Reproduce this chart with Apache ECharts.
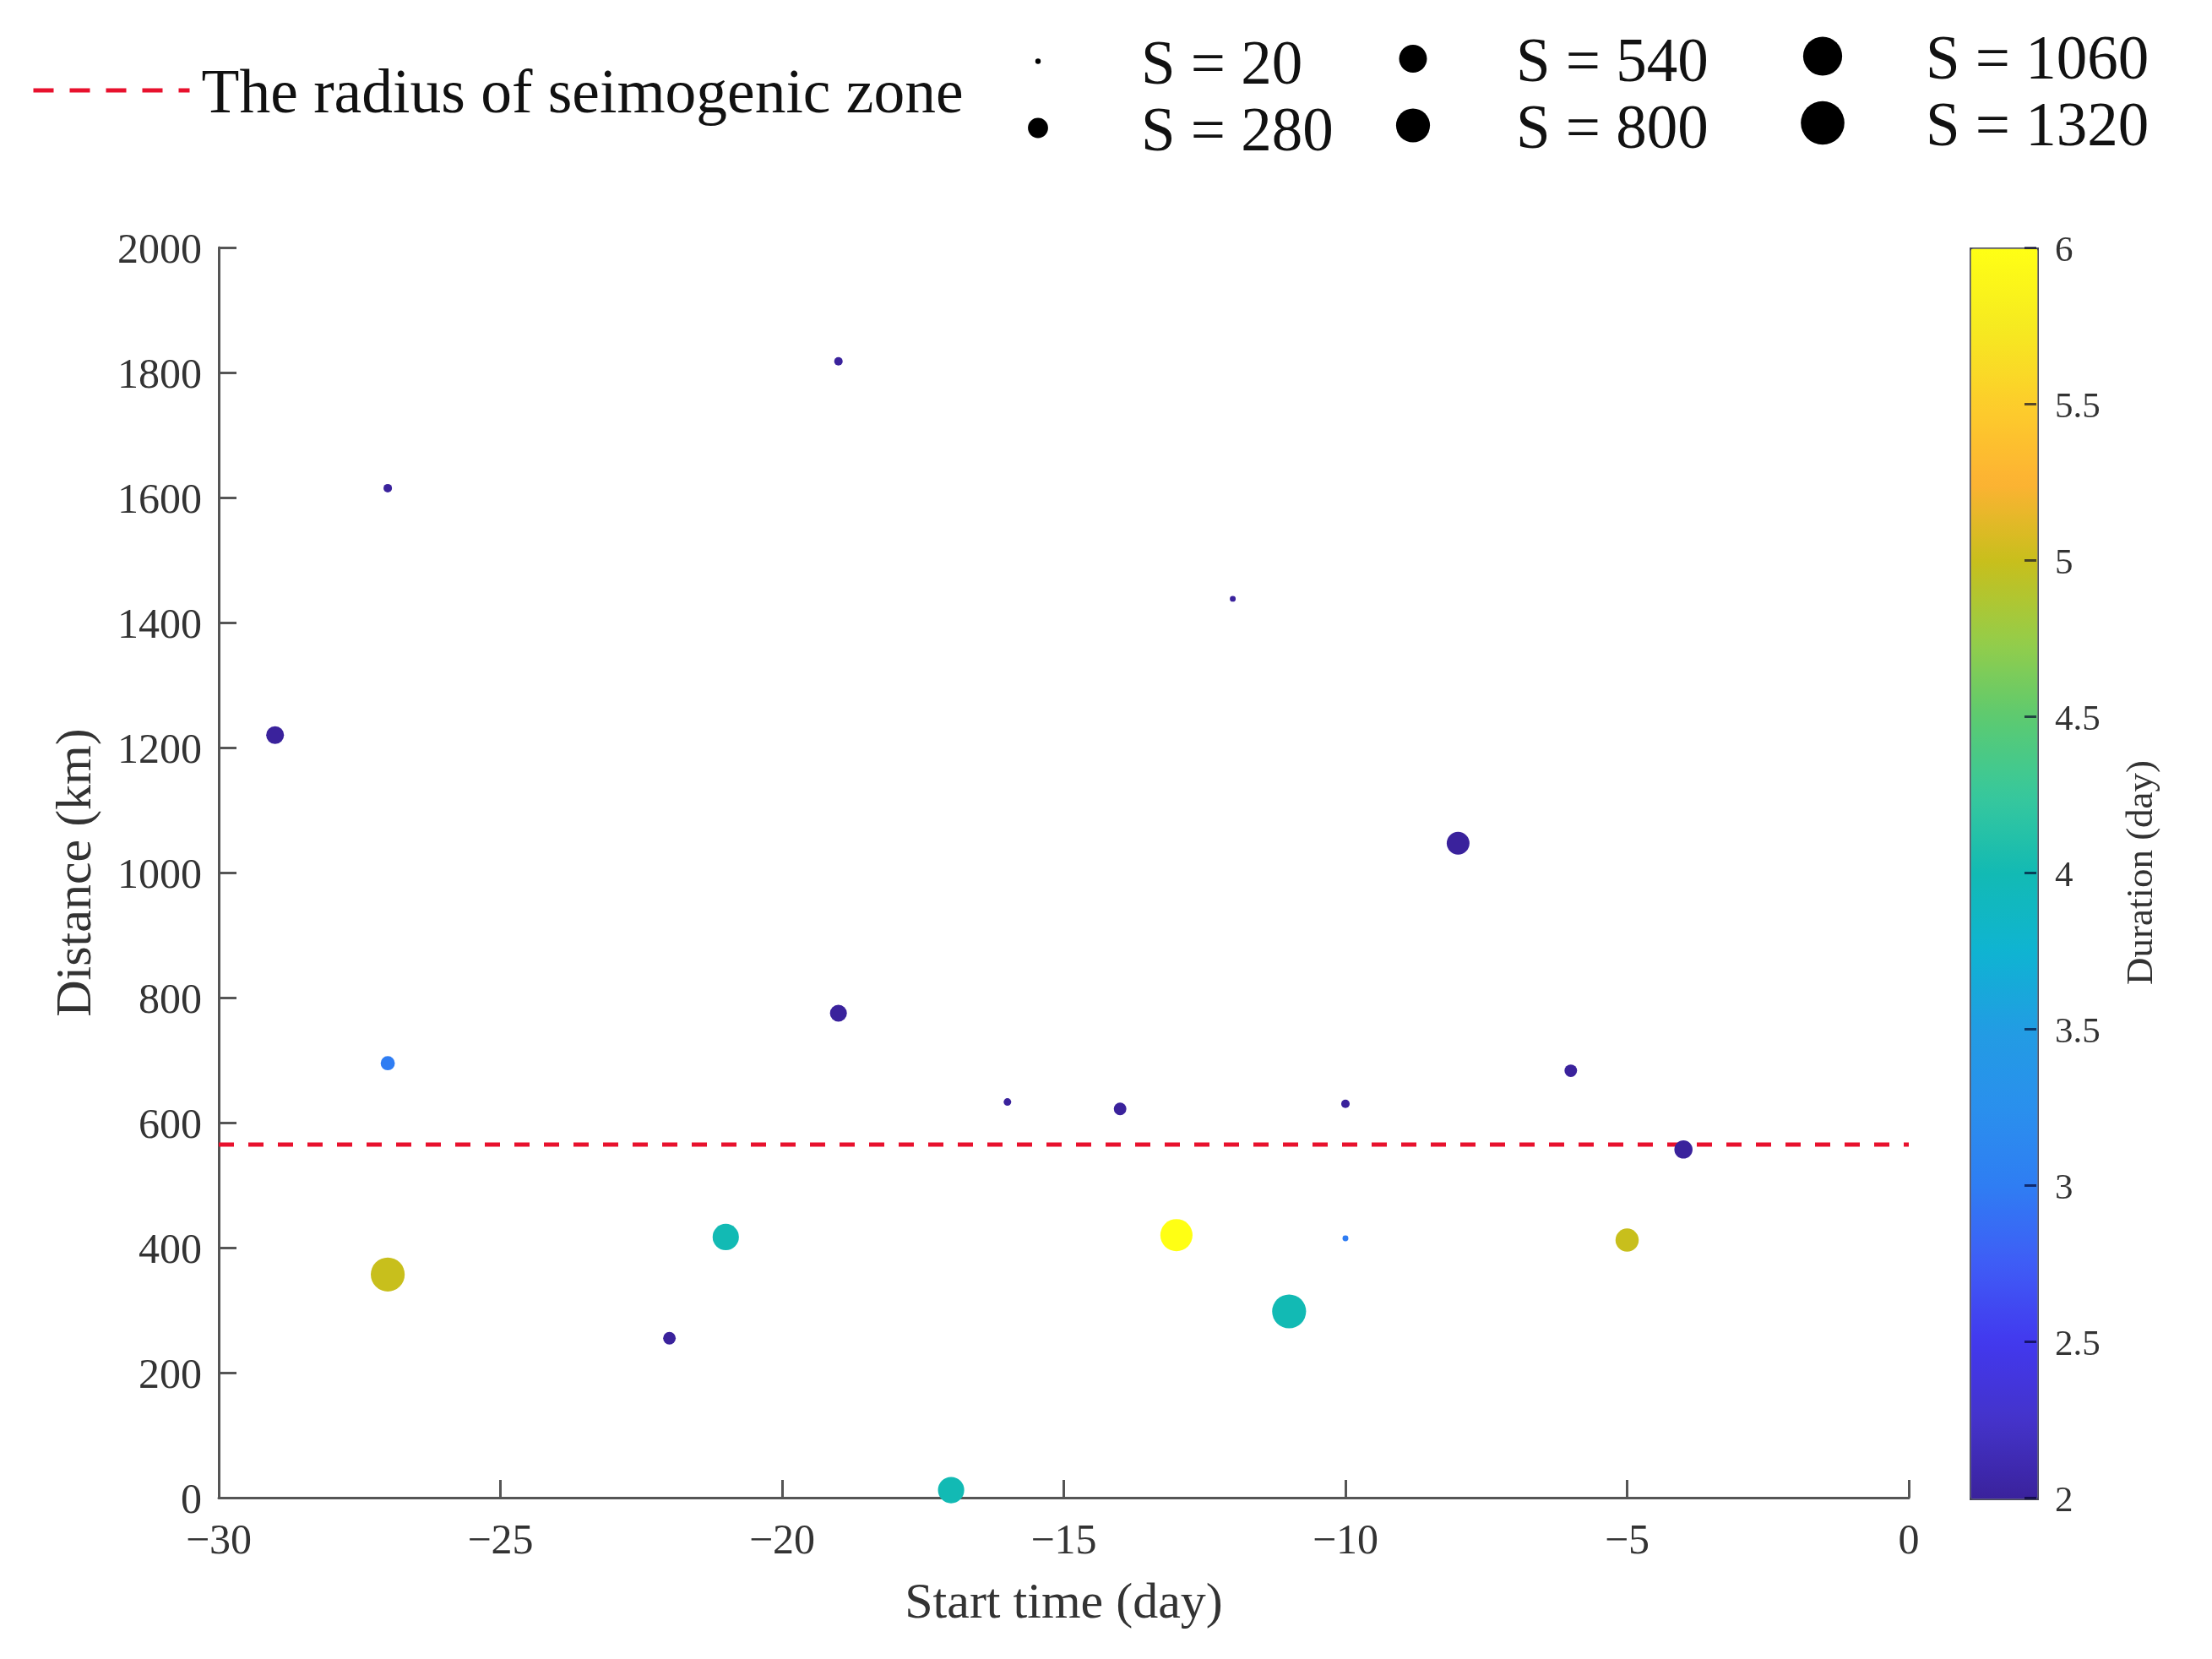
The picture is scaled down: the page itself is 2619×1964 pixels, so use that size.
<!DOCTYPE html>
<html>
<head>
<meta charset="utf-8">
<title>Start time vs distance</title>
<script src="https://cdn.jsdelivr.net/npm/echarts@6/dist/echarts.min.js"></script>
<style>
  html, body { margin: 0; padding: 0; background: #fff; }
  #main { width: 2619px; height: 1964px; }
</style>
</head>
<body>
<div id="main"></div>
<script>
var startTime = [-29, -27, -27, -27, -22, -21, -19, -19, -17, -16, -14, -13, -12, -11, -10, -10, -8, -6, -5, -4];
var distance = [1220, 1615, 695, 357, 255, 417, 1818, 775, 12, 633, 622, 420, 1438, 298, 630, 415, 1047, 683, 412, 557];
var duration = [2, 2, 3, 5, 2, 4, 2, 2, 4, 2, 2, 6, 2, 4, 2, 3, 2, 2, 5, 2];
var sizeS = [220, 50, 140, 800, 110, 480, 50, 200, 480, 40, 110, 720, 24, 800, 50, 24, 360, 110, 375, 230];

var radiusX = [-30, 0];
var radiusY = [565, 565];
var radiusName = 'The radius of seimogenic zone';

var legendS = [20, 280, 540, 800, 1060, 1320];

var colorStops = ['#3a229c', '#4433ca', '#4238ee', '#3f5cf6', '#2f7df3', '#2a90ed', '#229ce3', '#0fb4d2',
  '#12bab4', '#37c89c', '#5cca70', '#96cd48', '#c8bf1c', '#fdb233', '#fdcd2b', '#f6ea20', '#ffff14'];

var serifFont = '"Liberation Serif", "Times New Roman", serif';
var axisColor = '#555';
var textColor = '#333';

// marker diameter in px from the S value
function sToPx(s) {
  return 1.42 * Math.sqrt(s);
}

var points = startTime.map(function (t, i) {
  return [t, distance[i], duration[i], sizeS[i]];
});
var radiusLine = radiusX.map(function (x, i) {
  return [x, radiusY[i]];
});

var myChart = echarts.init(document.getElementById('main'));

var series = [{
  type: 'scatter',
  name: 'events',
  data: points,
  z: 3,
  clip: false,
  symbolSize: function (v) { return sToPx(v[3]); },
  itemStyle: { opacity: 1 }
}, {
  type: 'line',
  name: radiusName,
  data: radiusLine,
  z: 2,
  showSymbol: false,
  symbol: 'none',
  lineStyle: { color: '#e8112d', width: 5, type: [18, 17] },
  itemStyle: { color: '#e8112d' }
}];

// rich padding is what pushes the text down a little from the key or the tick
var legends = [{
  left: 37,
  top: 63,
  padding: 0,
  selectedMode: false,
  itemWidth: 185,
  itemHeight: 6,
  itemStyle: { opacity: 0 },
  lineStyle: { color: '#e8112d', width: 5, type: [24, 19], opacity: 1 },
  data: [radiusName],
  formatter: '{t|{name}}',
  textStyle: {
    rich: { t: { fontFamily: serifFont, fontSize: 73.5, color: '#111', lineHeight: 84, padding: [14, 0, 0, 9] } }
  }
}];

// each size key gets its own legend, the column offsets follow the figure
var keyX = [1229, 1229, 1673, 1673, 2158, 2158];
var keyY = [78, 157, 75, 154, 72, 151];
legendS.forEach(function (s, i) {
  var name = 'S = ' + s;
  // legend boxes start at the drawn circle, not at the item slot
  series.push({ type: 'scatter', name: name, data: [], itemStyle: { color: '#000', opacity: 1 } });
  legends.push({
    left: keyX[i] - sToPx(s) / 2,
    top: keyY[i] - 49,
    padding: 0,
    selectedMode: false,
    icon: 'circle',
    itemWidth: 234,
    itemHeight: sToPx(s),
    itemStyle: { color: '#000', opacity: 1 },
    data: [name],
    formatter: '{t|{name}}',
    textStyle: {
      rich: { t: { fontFamily: serifFont, fontSize: 73, color: '#111', lineHeight: 84, padding: [14, 0, 0, 0] } }
    }
  });
});

function richLabel(v) {
  return '{t|' + v + '}';
}

myChart.setOption({
  animation: false,
  backgroundColor: '#fff',
  legend: legends,
  grid: [
    { left: 259, top: 293, width: 2001, height: 1480, containLabel: false },
    { left: 2332, top: 293, width: 79, height: 1480, containLabel: false }
  ],
  xAxis: [{
    type: 'value',
    gridIndex: 0,
    min: -30,
    max: 0,
    interval: 5,
    name: 'Start time (day)',
    nameLocation: 'middle',
    nameGap: 96,
    nameTextStyle: { fontFamily: serifFont, fontSize: 60, color: textColor },
    axisLine: { onZero: false, lineStyle: { color: axisColor, width: 3 } },
    axisTick: { inside: true, length: 21, lineStyle: { color: axisColor, width: 3 } },
    axisLabel: {
      fontFamily: serifFont,
      fontSize: 50,
      color: textColor,
      margin: 28,
      formatter: function (v) { return String(v).replace('-', '\u2212'); }
    },
    splitLine: { show: false }
  }, {
    type: 'value',
    gridIndex: 1,
    min: 0,
    max: 1,
    show: false
  }],
  yAxis: [{
    type: 'value',
    gridIndex: 0,
    min: 0,
    max: 2000,
    interval: 200,
    name: 'Distance (km)',
    nameLocation: 'middle',
    nameGap: 138,
    nameTextStyle: { fontFamily: serifFont, fontSize: 60, color: textColor },
    axisLine: { show: true, onZero: false, lineStyle: { color: axisColor, width: 3 } },
    axisTick: { show: true, inside: true, length: 21, lineStyle: { color: axisColor, width: 3 } },
    axisLabel: {
      margin: 20,
      formatter: richLabel,
      rich: { t: { fontFamily: serifFont, fontSize: 50, color: textColor, padding: [10, 0, 0, 0] } }
    },
    splitLine: { show: false }
  }, {
    type: 'value',
    gridIndex: 1,
    position: 'right',
    z: 10,
    min: 2,
    max: 6,
    interval: 0.5,
    name: 'Duration (day)',
    nameLocation: 'middle',
    nameGap: 103,
    nameTextStyle: { fontFamily: serifFont, fontSize: 45, color: textColor },
    axisLine: { show: false, onZero: false },
    axisTick: { show: true, inside: true, length: 14, lineStyle: { color: 'rgba(0,0,40,0.65)', width: 3 } },
    axisLabel: {
      margin: 22,
      formatter: richLabel,
      rich: { t: { fontFamily: serifFont, fontSize: 43, color: textColor, padding: [10, 0, 0, 0] } }
    },
    splitLine: { show: false }
  }],
  visualMap: {
    type: 'continuous',
    seriesIndex: 0,
    dimension: 2,
    min: 2,
    max: 6,
    left: 2332,
    top: 293,
    itemWidth: 79,
    itemHeight: 1480,
    padding: 0,
    calculable: false,
    hoverLink: false,
    text: null,
    borderColor: 'rgba(40,40,60,0.85)',
    borderWidth: 3,
    inRange: { color: colorStops }
  },
  series: series
});
</script>
</body>
</html>
